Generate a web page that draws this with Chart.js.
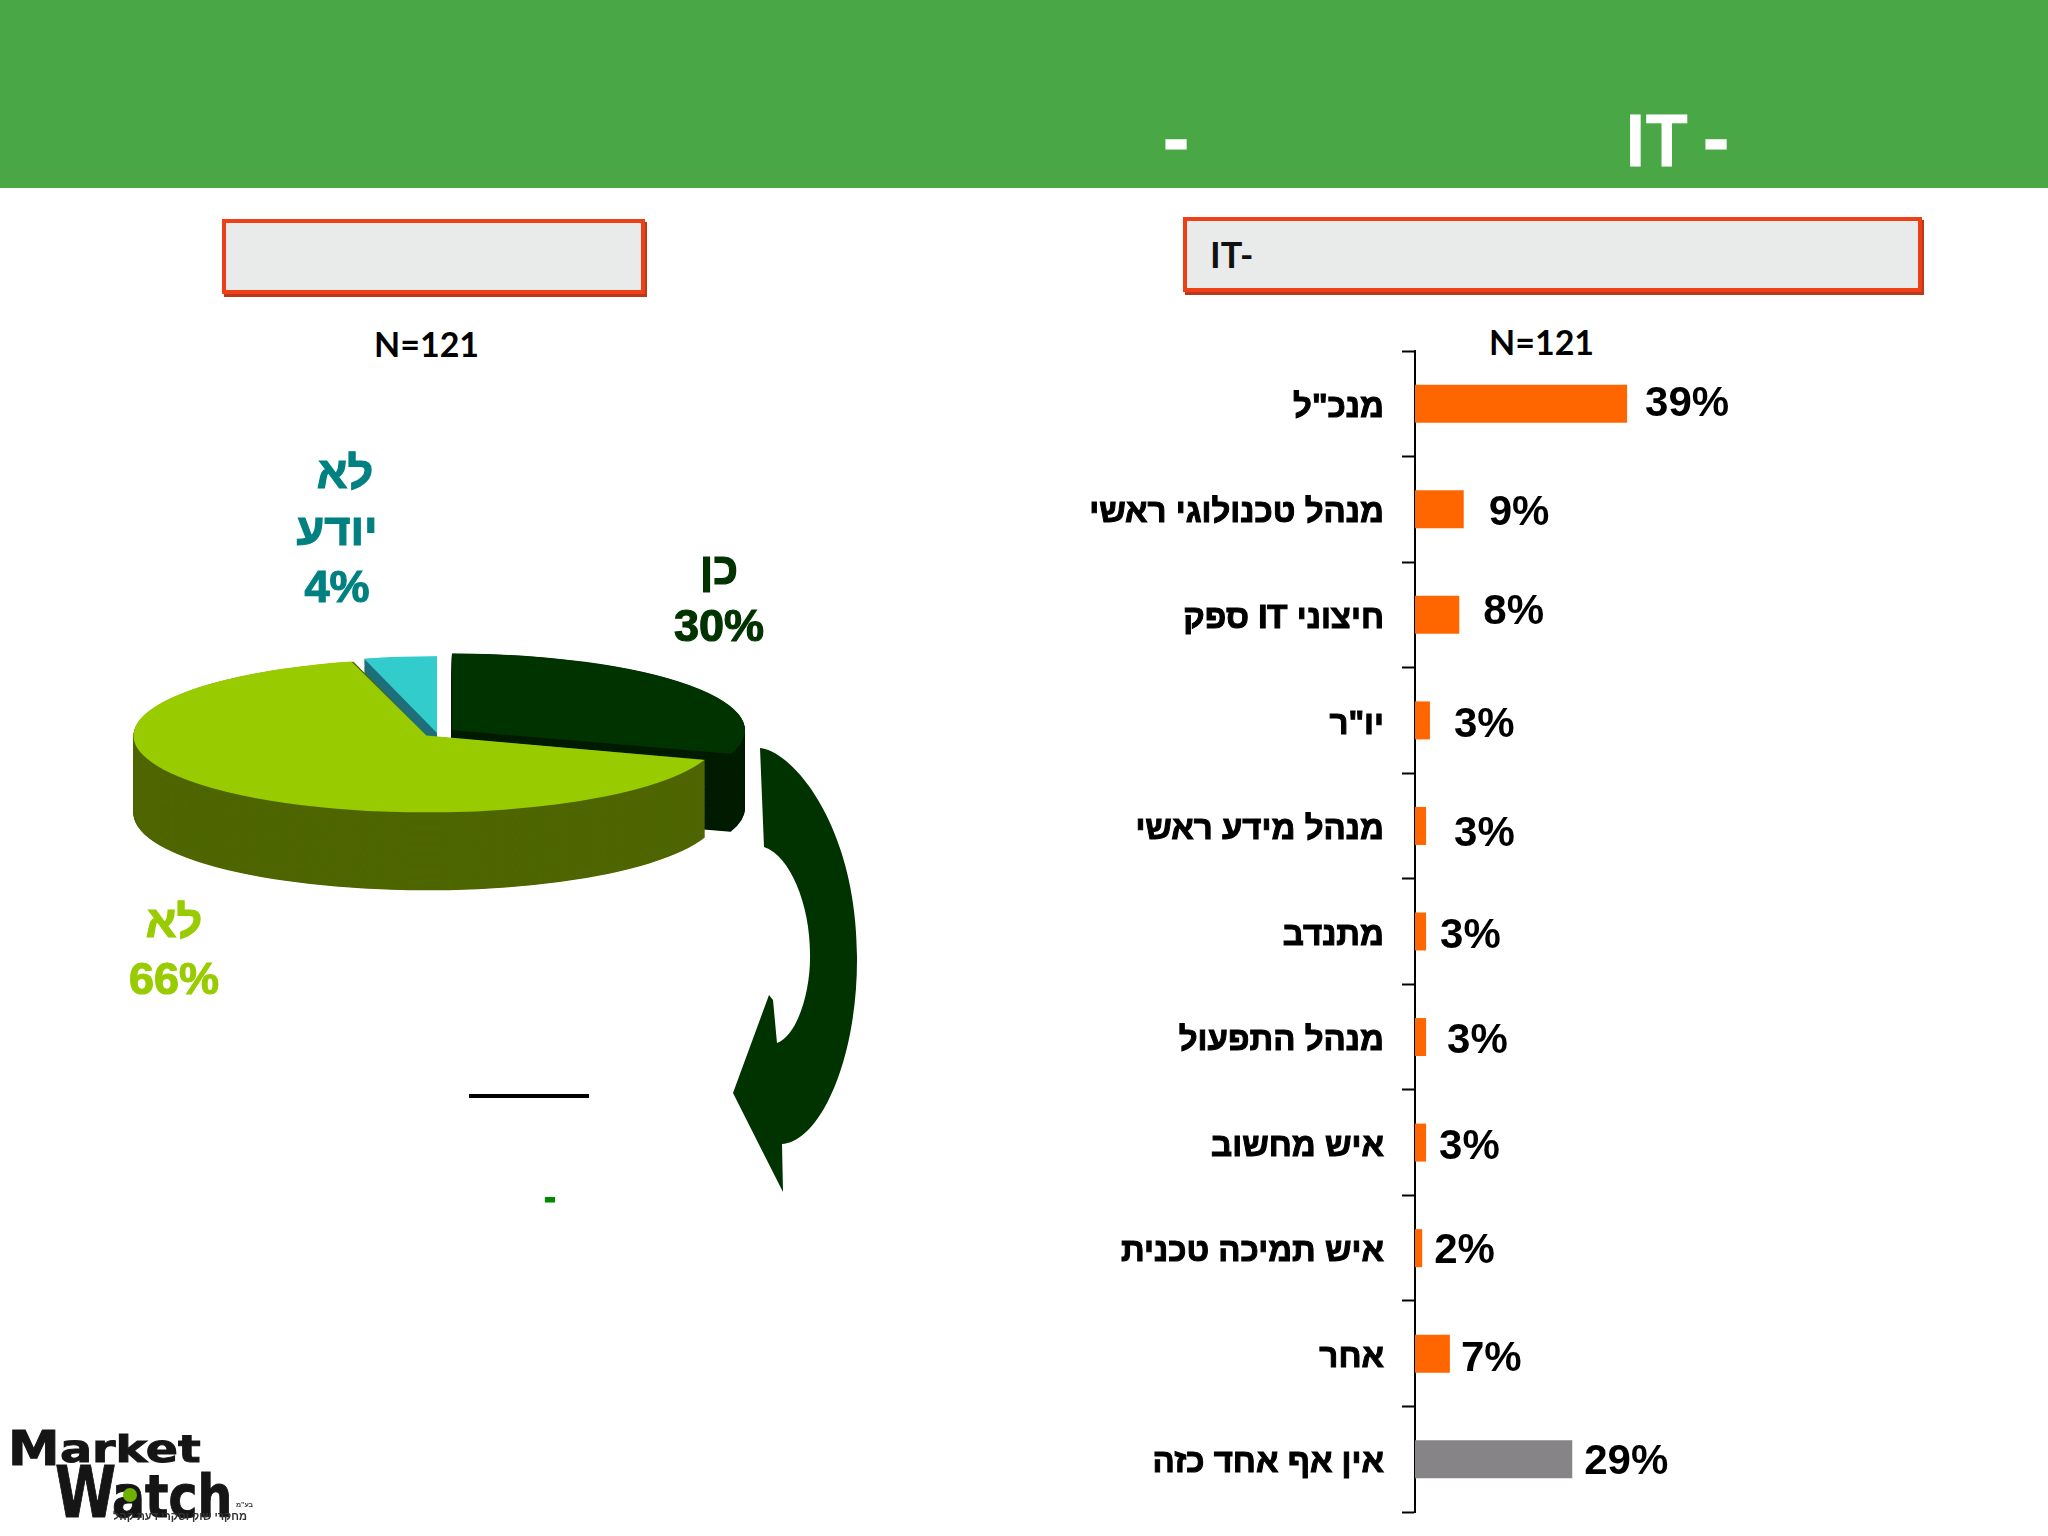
<!DOCTYPE html>
<html lang="he">
<head>
<meta charset="utf-8">
<title>Market Watch</title>
<script src="https://cdn.jsdelivr.net/npm/chart.js@4/dist/chart.umd.min.js"></script>
<style>
  html, body { margin: 0; padding: 0; width: 2048px; height: 1536px; overflow: hidden; background: #fff; }
  .abs { position: absolute; white-space: nowrap; line-height: 1; }
  .head { background: #49a745; left: 0; top: 0; width: 2048px; height: 188px; }
  .title { color: #fff; font: 700 70px Lato, sans-serif; -webkit-text-stroke: 1px #fff; }
  .dash { -webkit-text-stroke: 3px #fff; }
  .box { box-sizing: border-box; background: #e9ebea; border: 4px solid #ef3f17; box-shadow: 2px 3px 0 #b83a1a; }
  .boxtext { font: 700 36px Lato, sans-serif; color: #111; }
  .n { font: 700 34px Lato, sans-serif; color: #000; }
  .logo { font-family: "DejaVu Sans", sans-serif; font-weight: 700; color: #151515; transform-origin: left top; -webkit-text-stroke: 1px #151515; }
  canvas { position: absolute; }
</style>
</head>
<body>
<div class="abs head"></div>
<div class="abs title" style="left:1625px;top:97px">IT</div>
<div class="abs title dash" style="left:1703px;top:97px">-</div>
<div class="abs title dash" style="left:1163px;top:97px">-</div>

<div class="abs box" style="left:222px;top:219px;width:423px;height:75px"></div>
<div class="abs box" style="left:1183px;top:217px;width:739px;height:75px"></div>
<div class="abs boxtext" style="left:1210px;top:232px">IT-</div>
<div class="abs n" style="left:374px;top:323px">N=121</div>
<div class="abs n" style="left:1489px;top:321px">N=121</div>

<canvas id="pieChart" width="874" height="600" style="left:0;top:433px"></canvas>
<canvas id="barChart" width="818" height="1181" style="left:1040px;top:341px"></canvas>

<svg class="abs" style="left:0;top:0" width="2048" height="1536">
  <path fill="#003300" d="M760 748 C795 752 858 830 857 960 C857 1060 820 1142 782 1144 L783 1192 L733 1093 L769 995 L773 1000 L777 1043 C798 1035 811 990 810 953 C810 905 790 855 764 847 Z"/>
  <rect x="469" y="1094" width="120" height="4" fill="#000"/>
</svg>
<div class="abs" style="left:544px;top:1176px;color:#008a00;font:700 36px 'Liberation Sans',sans-serif;-webkit-text-stroke:1px #008a00">-</div>

<!-- logo -->
<div class="abs logo" style="left:8px;top:1424px;font-size:48px;transform:scaleX(1.08)">M</div>
<div class="abs logo" style="left:60px;top:1430px;font-size:38px;transform:scaleX(1.25)">arket</div>
<div class="abs logo" style="left:55px;top:1457px;font-size:71px;transform:scaleX(.78)">W</div>
<div class="abs logo" style="left:112px;top:1467px;font-size:59px;transform:scaleX(.83)">atch</div>
<div class="abs" style="left:123px;top:1488px;width:14px;height:14px;border-radius:7px;background:#6fb000"></div>
<div class="abs" style="left:113px;top:1510px;font:700 11px 'Liberation Sans',sans-serif;color:#333">מחקרי שוק וסקרי דעת קהל</div>
<div class="abs" style="left:236px;top:1501px;font:700 7px 'Liberation Sans',sans-serif;color:#333">בע"מ</div>

<script>
// pie data
const pieCategories = ['כן', 'לא', 'לא יודע'];
const pieValues = [30, 66, 4];
const pieColors = ['#003300', '#99cc00', '#33cccc'];
const pieSideColors = ['#001c00', '#4f6600', '#1f6f7a'];
const pieTextColors = ['#003300', '#99cc00', '#008080'];
const pieOffsets = [74, 58, 0];          // chart.js divides this by 4
const pieLabelPos = [[719, 572], [174, 925], [337, 476]];
const firstLineShift = [0, 0, 8];        // "לא" of "לא יודע" sits right of the rest

// bar data, lengths, labels as printed
const barCategories = ['מנכ"ל', 'מנהל טכנולוגי ראשי', 'ספק IT חיצוני', 'יו"ר', 'מנהל מידע ראשי', 'מתנדב', 'מנהל התפעול', 'איש מחשוב', 'איש תמיכה טכנית', 'אחר', 'אין אף אחד כזה'];
const barValues = [38.3, 8.8, 8, 2.7, 2, 2, 2, 2, 1.3, 6.3, 28.4];
const barLabels = ['39%', '9%', '8%', '3%', '3%', '3%', '3%', '3%', '2%', '7%', '29%'];
const barColors = ['#ff6600', '#ff6600', '#ff6600', '#ff6600', '#ff6600', '#ff6600', '#ff6600', '#ff6600', '#ff6600', '#ff6600', '#868486'];
const labelGaps = [18, 25, 24, 24, 28, 14, 21, 13, 12, 11, 12];
const labelNudge = [1, 4, -2, 5, 8, 5, 4, 5, 3, 6, 3];

const pieRadius = 293;
const squash = 0.262;
const depth = 78;

const pie3d = {
  id: 'pie3d',
  beforeDatasetsDraw(chart) {
    const ctx = chart.ctx;
    const arcs = chart.getDatasetMeta(0).data;
    const cx = arcs[0].x, cy = arcs[0].y;
    ctx.save();
    ctx.translate(cx, cy);
    ctx.scale(1, squash);
    ctx.translate(-cx, -cy);
    // side walls, lime one last so it covers the others
    [0, 2, 1].forEach(i => {
      const a = arcs[i];
      const mid = (a.startAngle + a.endAngle) / 2;
      const off = pieOffsets[i] / 4;
      const ox = a.x + Math.cos(mid) * off;
      const oy = a.y + Math.sin(mid) * off;
      // arc.draw grows exploded slices by this much, take it back
      const grow = off * (1 - Math.sin(Math.min(Math.PI, a.circumference)));
      a.outerRadius = pieRadius - grow;
      ctx.fillStyle = pieSideColors[i];
      for (let d = depth / squash; d > 0; d -= 2) {
        ctx.beginPath();
        ctx.moveTo(ox, oy + d);
        ctx.arc(ox, oy + d, pieRadius, a.startAngle, a.endAngle);
        ctx.closePath();
        ctx.fill();
      }
    });
  },
  afterDatasetsDraw(chart) {
    chart.ctx.restore();
  },
  afterDraw(chart) {
    const ctx = chart.ctx;
    const top = chart.canvas.offsetTop;
    ctx.save();
    ctx.font = 'bold 45px "Liberation Sans", sans-serif';
    ctx.textAlign = 'center';
    ctx.textBaseline = 'middle';
    ctx.lineWidth = 1.2;
    pieCategories.forEach((label, i) => {
      const lines = label.split(' ').concat(pieValues[i] + '%');
      ctx.fillStyle = ctx.strokeStyle = pieTextColors[i];
      lines.forEach((line, k) => {
        const x = pieLabelPos[i][0] + (k === 0 ? firstLineShift[i] : 0);
        const y = pieLabelPos[i][1] - top + k * 57;
        ctx.fillText(line, x, y);
        ctx.strokeText(line, x, y);
      });
    });
    ctx.restore();
  }
};

new Chart(document.getElementById('pieChart'), {
  type: 'pie',
  plugins: [pie3d],
  data: {
    labels: pieCategories,
    datasets: [{
      data: pieValues,
      backgroundColor: pieColors,
      offset: pieOffsets,
      borderWidth: 0,
      clip: false,
      radius: pieRadius
    }]
  },
  options: {
    responsive: false,
    devicePixelRatio: 1,
    animation: false,
    events: [],
    plugins: { legend: { display: false }, tooltip: { enabled: false } }
  }
});

const barValueLabels = {
  id: 'barValueLabels',
  beforeDraw(chart) {
    // category labels sit a little under their bars in the original
    chart.scales.y.getLabelItems(chart.chartArea).forEach(item => {
      if (!item.moved) {
        item.options.translation[1] += 4;
        item.moved = true;
      }
    });
  },
  afterDatasetsDraw(chart) {
    const ctx = chart.ctx;
    ctx.save();
    ctx.font = 'bold 42px "Liberation Sans", sans-serif';
    ctx.fillStyle = '#000';
    ctx.textAlign = 'left';
    ctx.textBaseline = 'middle';
    chart.getDatasetMeta(0).data.forEach((bar, i) => {
      ctx.fillText(barLabels[i], bar.x + labelGaps[i], bar.y + labelNudge[i]);
    });
    ctx.restore();
  }
};

new Chart(document.getElementById('barChart'), {
  type: 'bar',
  plugins: [barValueLabels],
  data: {
    labels: barCategories,
    datasets: [{
      data: barValues,
      backgroundColor: barColors,
      borderWidth: 0,
      categoryPercentage: 1,
      barPercentage: 0.36
    }]
  },
  options: {
    indexAxis: 'y',
    responsive: false,
    devicePixelRatio: 1,
    animation: false,
    events: [],
    layout: { padding: { top: 10, bottom: 10, left: 0, right: 0 } },
    scales: {
      x: { display: false, min: 0, max: 80 },
      y: {
        afterFit(scale) {
          scale.width = 375;
          scale.paddingTop = 0;
          scale.paddingBottom = 0;
        },
        border: { color: '#000', width: 2 },
        grid: { drawOnChartArea: false, tickLength: 13, tickColor: '#000', tickWidth: 2 },
        ticks: {
          autoSkip: false,
          padding: 18,
          color: '#000',
          textStrokeColor: '#000',
          textStrokeWidth: 1,
          font: { family: '"Liberation Sans", sans-serif', size: 33, weight: 'bold' }
        }
      }
    },
    plugins: { legend: { display: false }, tooltip: { enabled: false } }
  }
});
</script>
</body>
</html>
